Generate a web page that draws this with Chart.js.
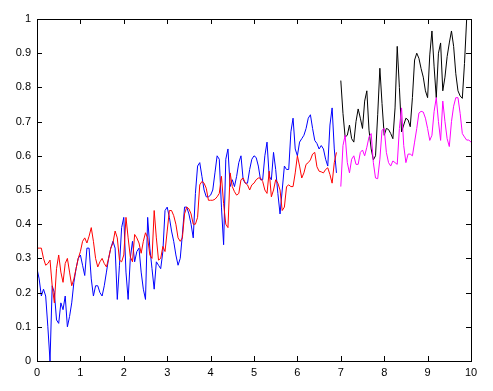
<!DOCTYPE html>
<html>
<head>
<meta charset="utf-8">
<script src="https://cdn.jsdelivr.net/npm/chart.js@4.4.1/dist/chart.umd.min.js"></script>
<style>
  html, body { margin: 0; padding: 0; background: #fff; }
  #wrap { width: 493px; height: 391px; }
</style>
</head>
<body>
<div id="wrap"><canvas id="plot" width="493" height="391"></canvas></div>
<script>
// sampled every 0.05 on x
var step = 0.05;
var firstStart = 0;    // blue / red run from 0 to 6.9
var secondStart = 7;   // black / magenta run from 7 to 10

var blueY = [
  0.27, 0.24, 0.19, 0.21, 0.19, 0.10, 0.00, 0.22, 0.20, 0.12,
  0.11, 0.17, 0.15, 0.19, 0.10, 0.13, 0.17, 0.23, 0.27, 0.30,
  0.31, 0.28, 0.25, 0.33, 0.33, 0.24, 0.19, 0.22, 0.22, 0.20,
  0.19, 0.22, 0.26, 0.30, 0.33, 0.35, 0.33, 0.18, 0.28, 0.39,
  0.42, 0.26, 0.18, 0.30, 0.35, 0.29, 0.32, 0.33, 0.26, 0.21,
  0.18, 0.42, 0.33, 0.27, 0.21, 0.29, 0.28, 0.27, 0.32, 0.44,
  0.45, 0.42, 0.38, 0.35, 0.31, 0.28, 0.30, 0.37, 0.45, 0.45,
  0.43, 0.40, 0.36, 0.49, 0.57, 0.58, 0.54, 0.50, 0.48, 0.48,
  0.485, 0.50, 0.55, 0.60, 0.59, 0.45, 0.34, 0.59, 0.62, 0.51,
  0.53, 0.51, 0.54, 0.58, 0.60, 0.53, 0.52, 0.52, 0.56, 0.59,
  0.60, 0.595, 0.57, 0.53, 0.53, 0.60, 0.64, 0.54, 0.53, 0.61,
  0.56, 0.49, 0.43, 0.50, 0.57, 0.56, 0.56, 0.67, 0.71, 0.62,
  0.60, 0.64, 0.65, 0.66, 0.68, 0.71, 0.72, 0.68, 0.645, 0.636,
  0.62, 0.63, 0.62, 0.59, 0.57, 0.69, 0.74, 0.62, 0.55
];
var redY = [
  0.33, 0.33, 0.33, 0.30, 0.28, 0.285, 0.295, 0.22, 0.17, 0.27,
  0.31, 0.26, 0.23, 0.285, 0.30, 0.26, 0.22, 0.24, 0.27, 0.30,
  0.32, 0.35, 0.36, 0.345, 0.365, 0.39, 0.35, 0.30, 0.275, 0.29,
  0.30, 0.285, 0.275, 0.30, 0.33, 0.345, 0.38, 0.36, 0.295, 0.29,
  0.31, 0.42, 0.36, 0.305, 0.29, 0.37, 0.36, 0.345, 0.315, 0.35,
  0.375, 0.36, 0.31, 0.30, 0.44, 0.36, 0.295, 0.30, 0.335, 0.32,
  0.38, 0.44, 0.44, 0.425, 0.40, 0.36, 0.35, 0.36, 0.43, 0.45,
  0.445, 0.43, 0.40, 0.40, 0.42, 0.515, 0.525, 0.52, 0.505, 0.47,
  0.47, 0.47, 0.473, 0.48, 0.49, 0.54, 0.46, 0.40, 0.39, 0.55,
  0.51, 0.495, 0.485, 0.49, 0.53, 0.535, 0.52, 0.515, 0.50, 0.515,
  0.52, 0.53, 0.535, 0.535, 0.525, 0.50, 0.49, 0.555, 0.48, 0.50,
  0.53, 0.52, 0.50, 0.44, 0.45, 0.51, 0.515, 0.51, 0.51, 0.55,
  0.60, 0.57, 0.535, 0.55, 0.575, 0.58, 0.588, 0.605, 0.61, 0.568,
  0.555, 0.553, 0.55, 0.56, 0.565, 0.545, 0.52, 0.58, 0.61
];
var blackY = [
  0.82, 0.724, 0.655, 0.66, 0.69, 0.65, 0.64, 0.70, 0.737, 0.71,
  0.68, 0.76, 0.79, 0.675, 0.62, 0.588, 0.60, 0.72, 0.856, 0.753,
  0.66, 0.68, 0.677, 0.665, 0.65, 0.74, 0.92, 0.80, 0.67, 0.69,
  0.71, 0.705, 0.685, 0.77, 0.88, 0.90, 0.885, 0.855, 0.83, 0.79,
  0.77, 0.895, 0.965, 0.86, 0.77, 0.90, 0.93, 0.79, 0.83, 0.89,
  0.93, 0.965, 0.92, 0.84, 0.79, 0.775, 0.768, 0.87, 1.0, 1.0,
  1.0
];
var magentaY = [
  0.51, 0.63, 0.66, 0.58, 0.55, 0.59, 0.60, 0.575, 0.575, 0.61,
  0.617, 0.60, 0.625, 0.655, 0.665, 0.58, 0.535, 0.533, 0.59, 0.675,
  0.68, 0.61, 0.58, 0.57, 0.585, 0.58, 0.575, 0.68, 0.74, 0.63,
  0.58, 0.605, 0.605, 0.60, 0.64, 0.68, 0.725, 0.73, 0.728, 0.71,
  0.68, 0.645, 0.66, 0.73, 0.77, 0.70, 0.645, 0.76, 0.70, 0.65,
  0.627, 0.70, 0.745, 0.77, 0.77, 0.724, 0.665, 0.655, 0.646, 0.646,
  0.64
];

var xTicks = [0, 1, 2, 3, 4, 5, 6, 7, 8, 9, 10];
var yTicks = [0, 0.1, 0.2, 0.3, 0.4, 0.5, 0.6, 0.7, 0.8, 0.9, 1];

function pts(start, ys) {
  return ys.map(function (v, i) { return { x: +(start + i * step).toFixed(2), y: v }; });
}

function line(color, data) {
  return {
    data: data,
    borderColor: color,
    borderWidth: 1,
    pointRadius: 0,
    tension: 0,
    fill: false
  };
}

// matlab style box with inward ticks on all four sides
var boxPlugin = {
  id: 'box',
  afterDatasetsDraw: function (chart) {
    var c = chart.ctx, a = chart.chartArea;
    var xs = chart.scales.x, ys = chart.scales.y;
    var len = 5;
    c.save();
    c.strokeStyle = '#000';
    c.lineWidth = 1;
    c.beginPath();
    xTicks.forEach(function (t) {
      var px = Math.round(xs.getPixelForValue(t)) + 0.5;
      c.moveTo(px, a.bottom); c.lineTo(px, a.bottom - len);
      c.moveTo(px, a.top); c.lineTo(px, a.top + len);
    });
    yTicks.forEach(function (t) {
      var py = Math.round(ys.getPixelForValue(t)) + 0.5;
      c.moveTo(a.left, py); c.lineTo(a.left + len, py);
      c.moveTo(a.right, py); c.lineTo(a.right - len, py);
    });
    c.stroke();
    c.strokeRect(Math.round(a.left) + 0.5, Math.round(a.top) + 0.5,
      Math.round(a.right - a.left), Math.round(a.bottom - a.top));
    c.restore();
  }
};

var ctx = document.getElementById('plot').getContext('2d');
var chart = new Chart(ctx, {
  type: 'line',
  data: {
    datasets: [
      line('#ff00ff', pts(secondStart, magentaY)),
      line('#000000', pts(secondStart, blackY)),
      line('#ff0000', pts(firstStart, redY)),
      line('#0000ff', pts(firstStart, blueY))
    ]
  },
  options: {
    responsive: false,
    animation: false,
    devicePixelRatio: 1,
    layout: { padding: { top: 19, right: 22, left: 0, bottom: 0 } },
    plugins: { legend: { display: false }, tooltip: { enabled: false } },
    scales: {
      x: {
        type: 'linear',
        min: 0, max: 10,
        afterFit: function (s) { s.height = 30; },
        afterBuildTicks: function (s) { s.ticks = xTicks.map(function (v) { return { value: v }; }); },
        grid: { display: false, drawTicks: false },
        border: { display: false },
        ticks: {
          padding: 5,
          color: '#000',
          font: { family: 'Liberation Sans, Arial, sans-serif', size: 11 },
          maxRotation: 0,
          callback: function (v) { return String(v); }
        }
      },
      y: {
        type: 'linear',
        min: 0, max: 1,
        afterFit: function (s) { s.width = 37; },
        afterBuildTicks: function (s) { s.ticks = yTicks.map(function (v) { return { value: v }; }); },
        grid: { display: false, drawTicks: false },
        border: { display: false },
        ticks: {
          padding: 6,
          color: '#000',
          font: { family: 'Liberation Sans, Arial, sans-serif', size: 11 },
          callback: function (v) { return String(+v.toFixed(1)); }
        }
      }
    }
  },
  plugins: [boxPlugin]
});
</script>
</body>
</html>
